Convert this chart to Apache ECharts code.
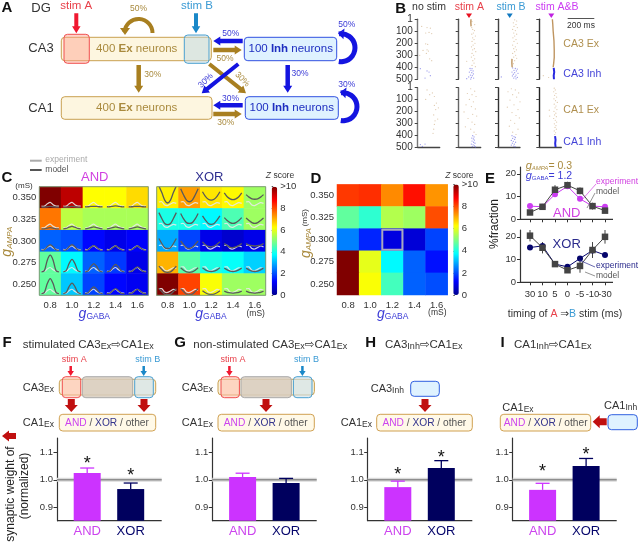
<!DOCTYPE html>
<html>
<head>
<meta charset="utf-8">
<style>
  html, body { margin: 0; padding: 0; background: #fff; }
  #chart { width: 640px; height: 543px; }
</style>
<script src="https://cdn.jsdelivr.net/npm/echarts@6/dist/echarts.min.js"></script>
</head>
<body>
<div id="chart"></div>
<script>
// heatmap tick labels
const gAmpaLabels = ['0.350', '0.325', '0.300', '0.275', '0.250'];
const gGabaLabels = ['0.8', '1.0', '1.2', '1.4', '1.6'];

// z scores, rows top to bottom
const andZ = [
  [10, 9.4, 6.25, 6.25, 6.6],
  [7.6, 5.6, 5.4, 5.4, 5.4],
  [2.2, 2.0, 1.3, 1.0, 1.2],
  [4.7, 3.7, 2.2, 1.8, 1.0],
  [4.7, 3.2, 1.9, 1.3, 1.1],
];
const xorZ = [
  [6.4, 7.2, 6.5, 6.3, 5.3],
  [4.0, 4.0, 3.7, 4.5, 5.3],
  [2.9, 1.9, 1.0, 0.7, 1.0],
  [7.0, 4.6, 4.0, 3.8, 3.3],
  [10, 8.1, 6.2, 5.3, 5.3],
];
const totalZ = [
  [8.2, 8.3, 7.4, 8.6, 7.3],
  [4.7, 4.2, 5.5, 5.3, 8.0],
  [2.5, 1.6, 0.9, 0.8, 1.9],
  [10, 6.0, 3.7, 2.2, 1.4],
  [10, 6.2, 4.4, 2.2, 2.0],
];
const selectedCell = [[2, 2]];

// timing curves
const timingLabels = ['30', '10', '5', '0', '-5', '-10', '-30'];
const andExperiment = [5.8, 5.5, 11, 14.5, 9, 5.8, 5.5];
const andModelTiming = [3, 5.5, 13, 15, 12.5, 5.8, 3.8];
const andModelErr = [0.5, 1, 2, 1.5, 1.5, 1.5, 1];
const xorExperiment = [15.3, 16, 8, 6.8, 10.5, 14, 12];
const xorModelTiming = [20.5, 15.2, 8, 5.3, 7.2, 14.2, 20];
const xorModelErr = [2.5, 2.5, 1, 1.2, 3, 3.5, 3];

// small model curves inside the cells of panel C, %fraction per timing
const andCellModel = [
  [[3, 3, 4, 5, 4, 3, 3], [3, 3, 4, 5, 4, 3, 3], [4, 4, 5, 5, 5, 4, 4], [4, 4, 5, 6, 5, 4, 4], [4, 4, 5, 5, 5, 4, 4]],
  [[3, 3, 5, 6, 5, 3, 3], [3, 4, 7, 9, 7, 4, 3], [3, 4, 6, 8, 6, 4, 3], [3, 4, 6, 8, 6, 4, 3], [3, 4, 6, 8, 6, 4, 3]],
  [[4, 5, 12, 17, 12, 5, 4], [4, 5, 12, 17, 12, 5, 4], [4, 5, 11, 15, 11, 5, 4], [4, 5, 10, 14, 10, 5, 4], [4, 5, 10, 14, 10, 5, 4]],
  [[4, 7, 32, 44, 32, 7, 4], [4, 7, 24, 34, 24, 7, 4], [4, 6, 17, 24, 17, 6, 4], [4, 6, 15, 22, 15, 6, 4], [4, 5, 11, 16, 11, 5, 4]],
  [[4, 7, 28, 40, 28, 7, 4], [4, 7, 21, 29, 21, 7, 4], [4, 6, 14, 20, 14, 6, 4], [4, 5, 11, 16, 11, 5, 4], [4, 5, 10, 14, 10, 5, 4]],
];
const xorCellModel = [
  [[54, 38, 20, 13, 20, 38, 54], [47, 32, 20, 16, 20, 32, 47], [40, 29, 22, 20, 22, 29, 40], [37, 28, 23, 21, 23, 28, 37], [33, 27, 23, 22, 23, 27, 33]],
  [[42, 28, 16, 13, 16, 28, 42], [40, 27, 18, 16, 18, 27, 40], [34, 24, 16, 14, 16, 24, 34], [30, 23, 18, 16, 18, 23, 30], [29, 23, 18, 16, 18, 23, 29]],
  [[32, 20, 10, 8, 10, 20, 32], [26, 17, 10, 8, 11, 18, 26], [24, 17, 13, 12, 14, 18, 24], [20, 15, 11, 10, 12, 15, 20], [20, 16, 15, 14, 15, 16, 20]],
  [[18, 10, 4, 3, 4, 10, 18], [14, 8, 4, 3, 4, 8, 14], [14, 9, 6, 5, 6, 9, 14], [13, 9, 6, 5, 6, 9, 13], [13, 9, 6, 5, 6, 9, 13]],
  [[16, 9, 3, 2, 3, 9, 16], [16, 9, 3, 2, 3, 9, 16], [11, 6, 3, 2, 3, 6, 11], [10, 7, 6, 5, 6, 7, 10], [10, 7, 6, 5, 6, 7, 10]],
];

// bar panels F to I: AND, XOR
const barCategories = ['AND', 'XOR'];
const weightF = [1.025, 0.966];
const weightFTop = [1.043, 0.988];
const weightG = [1.01, 0.988];
const weightGTop = [1.024, 1.005];
const weightH = [0.973, 1.043];
const weightHTop = [0.995, 1.07];
const weightI = [0.963, 1.05];
const weightITop = [0.987, 1.078];

// raster panels, [ms, neuron]
const ca3NoStimEx = [[30, 60], [70, 70], [95, 75], [60, 115], [85, 110], [105, 120], [60, 205], [75, 210], [40, 260], [70, 255], [80, 265], [65, 285], [15, 300], [90, 330], [105, 345]];
const ca3NoStimInh = [[20, 412], [70, 430], [85, 440], [95, 470], [55, 490]];
const ca3StimAVolley = [[92, 1], [91, 30], [93, 60]];
const ca3StimAEx = [[100, 20], [120, 45], [98, 70], [105, 85], [118, 95], [110, 115], [98, 125], [125, 140], [105, 155], [115, 170], [100, 185], [122, 200], [108, 215], [96, 230], [118, 245], [105, 255], [128, 270], [100, 285], [112, 300], [95, 315], [120, 330], [106, 345], [60, 350], [115, 365], [100, 385], [125, 395]];
const ca3StimAInh = [[85, 410], [100, 412], [92, 425], [108, 430], [80, 440], [98, 445], [110, 455], [88, 465], [102, 470], [75, 480], [95, 485], [112, 490], [60, 495], [90, 498]];
const ca3StimBVolley = [[105, 330], [104, 365], [106, 400]];
const ca3StimBEx = [[125, 5], [140, 15], [115, 30], [135, 45], [120, 60], [145, 70], [110, 85], [130, 95], [118, 115], [140, 125], [125, 140], [112, 155], [135, 170], [120, 185], [145, 200], [110, 215], [130, 230], [118, 245], [138, 255], [125, 270], [110, 285], [132, 300], [118, 315], [140, 325], [125, 345], [115, 370]];
const ca3StimBInh = [[110, 405], [130, 410], [145, 415], [120, 425], [138, 430], [105, 440], [125, 445], [150, 450], [115, 458], [135, 465], [108, 472], [128, 478], [145, 484], [118, 490], [135, 496], [25, 480]];
const ca3BothVolley = [[98, 1], [101, 40], [104, 100], [110, 180], [112, 260], [112, 320], [108, 365], [104, 400]];
const ca3BothEx = [[70, 485], [30, 470]];
const ca3BothInhVolley = [[108, 405], [112, 440], [108, 470], [110, 500]];
const ca1NoStimEx = [[70, 20], [110, 45], [90, 60], [125, 75], [60, 100], [140, 130], [125, 150], [155, 170], [135, 185], [120, 230], [150, 265], [130, 280], [125, 310], [120, 350], [115, 385]];
const ca1NoStimInh = [[20, 480], [55, 475], [35, 495]];
const ca1StimAEx = [[90, 10], [120, 30], [65, 50], [100, 60], [130, 75], [80, 100], [110, 120], [55, 145], [95, 160], [125, 180], [40, 205], [105, 225], [135, 240], [70, 260], [100, 290], [120, 310], [50, 330], [90, 350], [115, 375], [130, 395]];
const ca1StimAInh = [[105, 405], [115, 415], [98, 425], [110, 432], [118, 442], [100, 450], [112, 460], [122, 468], [95, 475], [108, 482], [118, 490], [102, 497], [125, 500]];
const ca1StimBEx = [[100, 10], [130, 20], [75, 35], [155, 45], [110, 60], [140, 80], [90, 105], [165, 120], [120, 145], [70, 165], [150, 185], [105, 210], [135, 235], [160, 255], [95, 275], [125, 300], [85, 325], [150, 350], [110, 375], [135, 395]];
const ca1StimBInh = [[105, 405], [120, 412], [130, 420], [110, 428], [125, 436], [100, 445], [115, 452], [132, 460], [108, 468], [122, 476], [100, 484], [118, 492], [128, 498]];
const ca1BothEx = [[112, 5], [120, 20], [108, 35], [125, 50], [115, 65], [130, 80], [110, 95], [122, 110], [135, 125], [112, 140], [125, 155], [118, 170], [132, 185], [110, 200], [124, 215], [115, 230], [128, 245], [108, 260], [120, 275], [130, 290], [113, 305], [125, 320], [118, 335], [128, 350], [112, 365], [122, 380], [116, 395], [75, 190], [78, 240]];
const ca1BothInhVolley = [[118, 408], [122, 440], [119, 470], [122, 500]];

// scale of the raster x axis and of the small curves
const rasterTicks = [1, 100, 200, 300, 400, 500];
const rasterSpan = 165;
const cellCurveRange = 52;

const FONT = '"Liberation Sans","DejaVu Sans",sans-serif';
const MAGENTA = '#cc3cf2';
const NAVY = '#05056b';
const TAN = '#a98a3e';
const BLUE = '#3a3ad6';
const EX_ARROW = '#a87f20';
const INH_ARROW = '#1414e0';
const DARK_RED = '#c01010';
const RED_TEXT = '#e8404a';
const BLUE_TEXT = '#3a9ad4';
const JET = ['#00008f', '#0000ff', '#0080ff', '#00ffff', '#80ff80', '#ffff00', '#ff8000', '#ff0000', '#800000'];

let grids = [];
let xAxes = [];
let yAxes = [];
let series = [];
let graphics = [];

function addGrid(box, xAxis, yAxis) {
  grids.push({ left: box[0], top: box[1], width: box[2], height: box[3], containLabel: false });
  let gridIndex = grids.length - 1;
  xAxes.push(Object.assign({ gridIndex, splitLine: { show: false } }, xAxis));
  yAxes.push(Object.assign({ gridIndex, splitLine: { show: false } }, yAxis));
  return gridIndex;
}

function addSeries(gridIndex, s) {
  series.push(Object.assign({ xAxisIndex: gridIndex, yAxisIndex: gridIndex, silent: true, animation: false }, s));
  return series.length - 1;
}

// ---------- drawing helpers for the schematics ----------
function txt(x, y, text, size, color, opts) {
  opts = opts || {};
  graphics.push({
    type: 'text',
    x,
    y,
    rotation: opts.rotation || 0,
    z: 50,
    silent: true,
    style: {
      text,
      fill: color || '#333',
      font: (opts.weight || 'normal') + ' ' + size + 'px ' + FONT,
      align: opts.align || 'left',
      verticalAlign: 'middle',
      rich: opts.rich,
    },
  });
}

function rich(size, color, subSize) {
  return {
    m: { fontSize: size, fontFamily: FONT, fill: color },
    s: { fontSize: subSize, fontFamily: FONT, fill: color, verticalAlign: 'bottom', lineHeight: size + 1 },
  };
}

function box(x1, y1, x2, y2, fill, stroke, z, r) {
  graphics.push({
    type: 'rect',
    z: z || 10,
    silent: true,
    shape: { x: x1, y: y1, width: x2 - x1, height: y2 - y1, r: r === undefined ? 3.5 : r },
    style: { fill, stroke, lineWidth: 1 },
  });
}

function segment(x1, y1, x2, y2, color, width) {
  graphics.push({
    type: 'line',
    z: 40,
    silent: true,
    shape: { x1, y1, x2, y2 },
    style: { stroke: color, lineWidth: width },
  });
}

function arrow(x1, y1, x2, y2, width, headWidth, headLength, color) {
  let len = Math.hypot(x2 - x1, y2 - y1);
  let ux = (x2 - x1) / len;
  let uy = (y2 - y1) / len;
  let nx = -uy;
  let ny = ux;
  let bx = x2 - ux * headLength;
  let by = y2 - uy * headLength;
  graphics.push({
    type: 'polygon',
    z: 30,
    silent: true,
    shape: {
      points: [
        [x1 + (nx * width) / 2, y1 + (ny * width) / 2],
        [bx + (nx * width) / 2, by + (ny * width) / 2],
        [bx + (nx * headWidth) / 2, by + (ny * headWidth) / 2],
        [x2, y2],
        [bx - (nx * headWidth) / 2, by - (ny * headWidth) / 2],
        [bx - (nx * width) / 2, by - (ny * width) / 2],
        [x1 - (nx * width) / 2, y1 - (ny * width) / 2],
      ],
    },
    style: { fill: color },
  });
}

function arcLine(cx, cy, r, start, end, width, color) {
  graphics.push({
    type: 'arc',
    z: 30,
    silent: true,
    shape: { cx, cy, r, startAngle: start, endAngle: end, clockwise: true },
    style: { stroke: color, lineWidth: width, fill: null },
  });
}

function triangle(x, y1, y2, half, color) {
  graphics.push({
    type: 'polygon',
    z: 30,
    silent: true,
    shape: { points: [[x - half, y1], [x + half, y1], [x, y2]] },
    style: { fill: color },
  });
}

function panelLetter(letter, x, y) {
  txt(x, y, letter, 15, '#111', { weight: 'bold', align: 'center' });
}

// ---------- panel A ----------
function drawPanelA() {
  panelLetter('A', 7, 8);
  txt(41, 8.5, 'DG', 13, '#333', { align: 'center' });
  txt(41, 48.5, 'CA3', 13, '#333', { align: 'center' });
  txt(41, 108, 'CA1', 13, '#333', { align: 'center' });
  txt(76.3, 6, 'stim A', 11.5, RED_TEXT, { align: 'center' });
  txt(197, 6, 'stim B', 11.5, BLUE_TEXT, { align: 'center' });
  arrow(76.3, 13.3, 76.3, 33.3, 4, 8.5, 7, '#f01830');
  arrow(196, 13.3, 196, 33.3, 4, 8.5, 7, '#1a88c8');

  box(61.3, 37.3, 211.3, 60.7, '#fdf6e0', '#c9a050');
  box(64, 34.3, 89.3, 63.3, 'rgba(255,160,140,0.45)', '#f05050', 11);
  box(184.3, 35, 209, 63.3, 'rgba(190,215,225,0.5)', '#4aa0d0', 11);
  box(244.3, 37.3, 336.7, 60.7, '#dff2ff', '#3050e0');
  box(61.3, 96.7, 212, 119.3, '#fdf6e0', '#c9a050');
  box(245.3, 96.7, 338.3, 119.3, '#dff2ff', '#3050e0');

  let exRich = { m: { fontSize: 11.5, fontFamily: FONT, fill: TAN }, b: { fontSize: 11.5, fontFamily: FONT, fontWeight: 'bold', fill: TAN } };
  let inhRich = { m: { fontSize: 11.5, fontFamily: FONT, fill: '#1e2ec0' }, b: { fontSize: 11.5, fontFamily: FONT, fontWeight: 'bold', fill: '#1e2ec0' } };
  txt(136.7, 49, '{m|400 }{b|Ex}{m| neurons}', 11.5, TAN, { align: 'center', rich: exRich });
  txt(136.7, 108, '{m|400 }{b|Ex}{m| neurons}', 11.5, TAN, { align: 'center', rich: exRich });
  txt(290.7, 49, '{m|100 }{b|Inh}{m| neurons}', 11.5, '#1e2ec0', { align: 'center', rich: inhRich });
  txt(291.7, 108, '{m|100 }{b|Inh}{m| neurons}', 11.5, '#1e2ec0', { align: 'center', rich: inhRich });

  // recurrent arrows
  arcLine(138.5, 33, 14, Math.PI * 1.02, Math.PI * 2, 4, EX_ARROW);
  triangle(125, 28, 35, 5, EX_ARROW);
  arcLine(341, 47.7, 14, -Math.PI * 0.55, Math.PI * 0.55, 5, INH_ARROW);
  arrow(342, 33.7, 338, 33.3, 4, 11, 6, INH_ARROW);
  arcLine(343, 106.7, 14, -Math.PI * 0.55, Math.PI * 0.55, 5, INH_ARROW);
  arrow(344, 92.7, 340, 92.3, 4, 11, 6, INH_ARROW);

  // connections
  arrow(213.3, 50, 241.7, 50, 4.5, 9, 7, EX_ARROW);
  arrow(242.7, 41, 213.3, 41, 4.5, 9, 7, INH_ARROW);
  arrow(138.7, 65, 138.7, 92.7, 4.5, 9, 7, EX_ARROW);
  arrow(209.3, 64, 246, 93.3, 4, 9, 7, EX_ARROW);
  arrow(238.3, 64, 201.7, 93.3, 4, 9, 7, INH_ARROW);
  arrow(287.7, 65, 287.7, 92.7, 4.5, 9, 7, INH_ARROW);
  arrow(242.7, 105.3, 213.3, 105.3, 4.5, 9, 7, INH_ARROW);
  arrow(213.3, 114, 241.7, 114, 4.5, 9, 7, EX_ARROW);

  let pct = 8.5;
  txt(138.5, 8.5, '50%', pct, TAN, { align: 'center' });
  txt(230.7, 34, '50%', pct, BLUE, { align: 'center' });
  txt(225, 58.5, '50%', pct, TAN, { align: 'center' });
  txt(152.7, 75, '30%', pct, TAN, { align: 'center' });
  txt(205.7, 80.7, '30%', pct, BLUE, { align: 'center', rotation: Math.PI / 4 });
  txt(242.3, 79.3, '30%', pct, TAN, { align: 'center', rotation: -Math.PI / 4 });
  txt(300, 74, '30%', pct, BLUE, { align: 'center' });
  txt(230.5, 98.3, '30%', pct, BLUE, { align: 'center' });
  txt(225.7, 122.3, '30%', pct, TAN, { align: 'center' });
  txt(346.7, 25, '50%', pct, BLUE, { align: 'center' });
  txt(346.7, 85, '30%', pct, BLUE, { align: 'center' });
}

// ---------- panel B ----------
function addRaster(left, top, width, height, showLabels, showBase, axisColor, data) {
  let g = addGrid(
    [left, top, width, height],
    {
      type: 'value',
      min: 0,
      max: rasterSpan,
      axisLine: { show: showBase, onZero: false, lineStyle: { color: '#444', width: 1.3 } },
      axisTick: { show: false },
      axisLabel: { show: false },
    },
    {
      type: 'value',
      inverse: true,
      min: 1,
      max: 500,
      axisLine: { show: true, onZero: false, lineStyle: { color: axisColor, width: 1.4 } },
      axisTick: { show: true, length: 3, customValues: rasterTicks, lineStyle: { color: '#444', width: 1 } },
      axisLabel: {
        show: showLabels,
        customValues: rasterTicks,
        fontSize: 10,
        fontFamily: FONT,
        color: '#333',
        margin: 5,
      },
    }
  );
  if (data.ex) {
    addSeries(g, { type: 'scatter', data: data.ex, symbolSize: 1.2, clip: false, itemStyle: { color: '#cfae84', opacity: 0.7 } });
  }
  if (data.inh) {
    addSeries(g, { type: 'scatter', data: data.inh, symbolSize: 1.3, clip: false, itemStyle: { color: '#6464e4', opacity: 0.65 } });
  }
  if (data.volley) {
    addSeries(g, { type: 'line', data: data.volley, showSymbol: false, clip: false, lineStyle: { color: '#bf9560', width: 1.4 } });
  }
  if (data.inhVolley) {
    addSeries(g, { type: 'line', data: data.inhVolley, showSymbol: false, clip: false, lineStyle: { color: '#2a2ae0', width: 2 } });
  }
}

function drawPanelB() {
  panelLetter('B', 400.7, 8.5);
  txt(429, 7, 'no stim', 10.5, '#333', { align: 'center' });
  txt(469.3, 7, 'stim A', 10.5, RED_TEXT, { align: 'center' });
  txt(511, 7, 'stim B', 10.5, BLUE_TEXT, { align: 'center' });
  txt(557, 7, 'stim A&B', 10.5, MAGENTA, { align: 'center' });
  triangle(469, 13.5, 18, 3, '#e81020');
  triangle(509.7, 13.5, 18, 3, '#1078c0');
  triangle(551.3, 13.5, 18, 3, '#c020e0');
  segment(567.7, 18.5, 594.3, 18.5, '#555', 1);
  txt(581, 25.5, '200 ms', 8.5, '#333', { align: 'center' });
  txt(563.3, 44, 'CA3 Ex', 10.5, '#b09050');
  txt(563.3, 74, 'CA3 Inh', 10.5, '#4444d8');
  txt(563.3, 110, 'CA1 Ex', 10.5, '#b09050');
  txt(563.3, 141.7, 'CA1 Inh', 10.5, '#4444d8');

  addRaster(417.7, 19.3, 22, 60, true, false, '#777', { ex: ca3NoStimEx, inh: ca3NoStimInh });
  addRaster(458.7, 19.3, 22, 60, false, false, '#555', { ex: ca3StimAEx, inh: ca3StimAInh, volley: ca3StimAVolley });
  addRaster(498, 19.3, 22, 60, false, false, '#444', { ex: ca3StimBEx, inh: ca3StimBInh, volley: ca3StimBVolley });
  addRaster(539.3, 19.3, 22, 60, false, false, '#333', { ex: ca3BothEx, volley: ca3BothVolley, inhVolley: ca3BothInhVolley });
  addRaster(417.7, 87.7, 22, 59.3, true, true, '#777', { ex: ca1NoStimEx, inh: ca1NoStimInh });
  addRaster(458.7, 87.7, 22, 59.3, false, true, '#666', { ex: ca1StimAEx, inh: ca1StimAInh });
  addRaster(498, 87.7, 22, 59.3, false, true, '#333', { ex: ca1StimBEx, inh: ca1StimBInh });
  addRaster(539.3, 87.7, 22, 59.3, false, true, '#222', { ex: ca1BothEx, inhVolley: ca1BothInhVolley });
}

// ---------- panels C and D ----------
function cellsOf(matrix) {
  let cells = [];
  matrix.forEach((row, r) => row.forEach((v, c) => cells.push([c, r, v])));
  return cells;
}

function addHeatmap(box_, matrix, showY) {
  let labelStyle = { fontSize: 9.5, fontFamily: FONT, color: '#333' };
  let g = addGrid(
    box_,
    {
      type: 'category',
      data: gGabaLabels,
      axisLine: { show: false },
      axisTick: { show: false },
      axisLabel: Object.assign({ margin: 5 }, labelStyle),
    },
    {
      type: 'category',
      inverse: true,
      data: gAmpaLabels,
      axisLine: { show: false },
      axisTick: { show: false },
      axisLabel: Object.assign({ show: showY, margin: 3 }, labelStyle),
    }
  );
  let index = addSeries(g, { type: 'heatmap', data: cellsOf(matrix), progressive: 0 });
  return { g, index };
}

function addCurves(g, matrix, experiment, model) {
  addSeries(g, {
    type: 'custom',
    data: cellsOf(matrix),
    clip: true,
    z: 5,
    renderItem(params, api) {
      let c = api.value(0);
      let r = api.value(1);
      let center = api.coord([c, r]);
      let size = api.size([1, 1]);
      let x0 = center[0] - size[0] / 2;
      let bottom = center[1] + size[1] / 2;
      let path = values =>
        values.map((v, i) => [x0 + size[0] * (0.1 + (0.8 * i) / 6), bottom - (v / cellCurveRange) * size[1]]);
      return {
        type: 'group',
        children: [
          {
            type: 'polyline',
            shape: { points: path(experiment), smooth: 0.3 },
            style: { fill: null, stroke: 'rgba(232,232,232,0.9)', lineWidth: 1.2 },
          },
          {
            type: 'polyline',
            shape: { points: path(model[r][c]), smooth: 0.3 },
            style: { fill: null, stroke: '#5a5a5a', lineWidth: 1.3 },
          },
        ],
      };
    },
  });
}

function addColorbarAxis(left, top, width, height) {
  addGrid(
    [left, top, width, height],
    { type: 'value', show: false, min: 0, max: 1 },
    {
      type: 'value',
      position: 'right',
      min: 0,
      max: 10,
      interval: 2,
      axisLine: { show: false },
      axisTick: { show: true, length: 1.5, lineStyle: { color: '#555' } },
      axisLabel: {
        fontSize: 9.5,
        fontFamily: FONT,
        color: '#333',
        margin: 3,
        formatter: v => (v === 10 ? '>10' : v),
      },
    }
  );
}

function gLabelRich(color) {
  return {
    g: { fontSize: 14, fontFamily: FONT, fontStyle: 'italic', fill: color },
    s: { fontSize: 8.5, fontFamily: FONT, fill: color, verticalAlign: 'bottom', lineHeight: 12 },
    i: { fontSize: 8, fontFamily: FONT, fontStyle: 'italic', fill: color, verticalAlign: 'bottom', lineHeight: 12 },
  };
}

function drawPanelsCD() {
  panelLetter('C', 7, 178);
  segment(30, 160.7, 41.7, 160.7, '#aaa', 2);
  segment(30, 170, 41.7, 170, '#555', 2);
  txt(45.3, 160, 'experiment', 8.5, '#aaa');
  txt(45.3, 170, 'model', 8.5, '#555');
  txt(94.7, 177.7, 'AND', 13, '#d040e0', { align: 'center' });
  txt(209.3, 177.7, 'XOR', 13, '#303090', { align: 'center' });
  txt(24, 186, '(mS)', 8, '#333', { align: 'center' });
  txt(94.3, 314, '{g|g}{s|GABA}', 14, BLUE, { align: 'center', rich: gLabelRich(BLUE) });
  txt(211, 314, '{g|g}{s|GABA}', 14, BLUE, { align: 'center', rich: gLabelRich(BLUE) });
  txt(255.7, 313.3, '(mS)', 8.5, '#333', { align: 'center' });
  txt(7, 241.7, '{g|g}{i|AMPA}', 14, TAN, { align: 'center', rotation: Math.PI / 2, rich: gLabelRich(TAN) });

  let zRich = {
    z: { fontSize: 8.5, fontFamily: FONT, fontStyle: 'italic', fill: '#333' },
    t: { fontSize: 8.5, fontFamily: FONT, fill: '#333' },
  };
  txt(280, 175.3, '{z|Z}{t| score}', 8.5, '#333', { align: 'center', rich: zRich });
  txt(459.3, 175.3, '{z|Z}{t| score}', 8.5, '#333', { align: 'center', rich: zRich });

  panelLetter('D', 316, 179.3);
  txt(392.7, 314, '{g|g}{s|GABA}', 14, BLUE, { align: 'center', rich: gLabelRich(BLUE) });
  txt(437.3, 312.7, '(mS)', 8.5, '#333', { align: 'center' });
  txt(306, 243, '{g|g}{i|AMPA}', 14, TAN, { align: 'center', rotation: Math.PI / 2, rich: gLabelRich(TAN) });
  txt(305, 217.7, '(mS)', 8, '#333', { align: 'center', rotation: Math.PI / 2 });

  let andMap = addHeatmap([39.3, 186.7, 109, 108.6], andZ, true);
  let xorMap = addHeatmap([156.7, 186.7, 109, 108.6], xorZ, false);
  let totalMap = addHeatmap([337, 184.4, 110.7, 110.6], totalZ, true);
  addCurves(andMap.g, andZ, andExperiment, andCellModel);
  addCurves(xorMap.g, xorZ, xorExperiment, xorCellModel);

  addSeries(totalMap.g, {
    type: 'custom',
    data: selectedCell,
    z: 6,
    renderItem(params, api) {
      let center = api.coord([api.value(0), api.value(1)]);
      let size = api.size([1, 1]);
      return {
        type: 'rect',
        shape: { x: center[0] - size[0] / 2 + 1, y: center[1] - size[1] / 2 + 1, width: size[0] - 2, height: size[1] - 2 },
        style: { fill: null, stroke: '#a8a8c0', lineWidth: 2 },
      };
    },
  });

  box(39.3, 186.7, 148.3, 295.3, null, '#7f9a78', 20, 0);
  box(156.7, 186.7, 265.7, 295.3, null, '#7f9a78', 20, 0);

  addColorbarAxis(271.7, 186.7, 5.5, 108.6);
  addColorbarAxis(453.3, 184.4, 5.5, 110.6);

  return [
    { seriesIndex: [andMap.index, xorMap.index], left: 271.7, top: 186.7, itemHeight: 108.6 },
    { seriesIndex: [totalMap.index], left: 453.3, top: 184.4, itemHeight: 110.6 },
  ].map(m =>
    Object.assign(m, {
      type: 'continuous',
      min: 0,
      max: 10,
      itemWidth: 5.5,
      padding: 0,
      calculable: false,
      hoverLink: false,
      text: null,
      inRange: { color: JET },
    })
  );
}

// ---------- panel E ----------
function addTimingPanel(top, experiment, experimentColor, model, err, showLabels) {
  let g = addGrid(
    [523.75, top, 87.5, 52.3],
    {
      type: 'category',
      data: timingLabels,
      axisLine: { show: false },
      axisTick: { show: true, alignWithLabel: true, length: 3, lineStyle: { color: '#333' } },
      axisLabel: { show: showLabels, fontSize: 9.5, fontFamily: FONT, color: '#333', margin: 7, interval: 0 },
    },
    {
      type: 'value',
      min: 0,
      max: 23,
      offset: 3.75,
      axisLine: { show: true, onZero: false, lineStyle: { color: '#333', width: 1.2 } },
      axisTick: { show: true, length: 3, customValues: [0, 10, 20], lineStyle: { color: '#333' } },
      axisLabel: { fontSize: 9.5, fontFamily: FONT, color: '#333', margin: 4, customValues: [0, 10, 20] },
    }
  );
  segment(520, top + 52.3, 613, top + 52.3, '#333', 1.2);
  addSeries(g, {
    type: 'custom',
    data: model.map((v, i) => [i, v - err[i], v + err[i]]),
    z: 3,
    clip: false,
    renderItem(params, api) {
      let low = api.coord([api.value(0), api.value(1)]);
      let high = api.coord([api.value(0), api.value(2)]);
      return {
        type: 'line',
        shape: { x1: low[0], y1: low[1], x2: high[0], y2: high[1] },
        style: { stroke: '#444', lineWidth: 1 },
      };
    },
  });
  addSeries(g, {
    type: 'line',
    data: experiment,
    z: 4,
    symbol: 'circle',
    symbolSize: 6,
    clip: false,
    lineStyle: { color: experimentColor, width: 1 },
    itemStyle: { color: experimentColor },
  });
  addSeries(g, {
    type: 'line',
    data: model,
    z: 5,
    symbol: 'rect',
    symbolSize: 6.5,
    clip: false,
    lineStyle: { color: '#444', width: 1 },
    itemStyle: { color: '#444' },
  });
}

function drawPanelE() {
  panelLetter('E', 490, 179.3);
  txt(494.3, 224, '%fraction', 12, '#222', { align: 'center', rotation: Math.PI / 2 });
  let tanRich = gLabelRich(TAN);
  tanRich.n = { fontSize: 10.5, fontFamily: FONT, fill: TAN };
  tanRich.g.fontSize = 11;
  tanRich.i.fontSize = 6;
  tanRich.i.lineHeight = 9;
  let blueRich = gLabelRich(BLUE);
  blueRich.n = { fontSize: 10.5, fontFamily: FONT, fill: BLUE };
  blueRich.g.fontSize = 11;
  blueRich.s.fontSize = 6;
  blueRich.s.lineHeight = 9;
  txt(525.7, 166, '{g|g}{i|AMPA}{n|= 0.3}', 11, TAN, { rich: tanRich });
  txt(525.7, 176, '{g|g}{s|GABA}{n|= 1.2}', 11, BLUE, { rich: blueRich });
  txt(566.7, 213, 'AND', 13, '#d040e0', { align: 'center' });
  txt(566.7, 244, 'XOR', 13, '#2a2a8c', { align: 'center' });
  txt(596, 182, 'experiment', 8.5, '#d040e0');
  txt(596, 191.7, 'model', 8.5, '#555');
  txt(596, 266, 'experiment', 8.5, '#2a2a8c');
  txt(596, 275.7, 'model', 8.5, '#555');
  segment(596, 184, 581, 201, '#d040e0', 0.7);
  segment(595, 193, 587, 208, '#666', 0.7);
  segment(595, 267, 579, 260, '#2a2a8c', 0.7);
  segment(595, 276, 585, 272, '#666', 0.7);
  let axisRich = {
    t: { fontSize: 10.5, fontFamily: FONT, fill: '#333' },
    a: { fontSize: 10.5, fontFamily: FONT, fill: RED_TEXT },
    b: { fontSize: 10.5, fontFamily: FONT, fill: BLUE_TEXT },
  };
  txt(565, 313.7, '{t|timing of }{a|A}{t| \u21d2}{b|B}{t| stim (ms)}', 10.5, '#333', { align: 'center', rich: axisRich });

  addTimingPanel(167, andExperiment, MAGENTA, andModelTiming, andModelErr, false);
  addTimingPanel(230, xorExperiment, NAVY, xorModelTiming, xorModelErr, true);
}

// ---------- panels F to I ----------
function addBarPanel(axisX, rightX, firstCenter, values, tops) {
  let band = 43.5;
  let left = firstCenter - band / 2;
  let g = addGrid(
    [left, 438, band * 2, 82.7],
    {
      type: 'category',
      data: barCategories.map((name, i) => ({
        value: name,
        textStyle: { color: i === 0 ? '#cc44ee' : NAVY },
      })),
      axisLine: { show: false },
      axisTick: { show: false },
      axisLabel: { fontSize: 13, fontFamily: FONT, margin: 4, interval: 0 },
    },
    {
      type: 'value',
      min: 0.85,
      max: 1.153,
      offset: left - axisX,
      axisLine: { show: true, onZero: false, lineStyle: { color: '#333', width: 1.2 } },
      axisTick: { show: true, length: 3.5, customValues: [0.9, 1.0, 1.1], lineStyle: { color: '#333' } },
      axisLabel: {
        fontSize: 9.5,
        fontFamily: FONT,
        color: '#333',
        margin: 4,
        customValues: [0.9, 1.0, 1.1],
        formatter: v => v.toFixed(1),
      },
    }
  );
  // reference band at 1.0 and the base line run the whole width of the panel
  addSeries(g, {
    type: 'custom',
    data: [[0, 1.0, 0.85]],
    z: 1,
    clip: false,
    renderItem(params, api) {
      let y = api.coord([0, api.value(1)])[1];
      let up = api.coord([0, 1.007])[1];
      let down = api.coord([0, 0.993])[1];
      let base = api.coord([0, api.value(2)])[1];
      return {
        type: 'group',
        children: [
          { type: 'rect', shape: { x: axisX, y: up, width: rightX - axisX, height: down - up }, style: { fill: '#dadada' } },
          { type: 'line', shape: { x1: axisX, y1: y, x2: rightX, y2: y }, style: { stroke: '#8e8e8e', lineWidth: 1.5 } },
          { type: 'line', shape: { x1: axisX, y1: base, x2: rightX, y2: base }, style: { stroke: '#333', lineWidth: 1.2 } },
        ],
      };
    },
  });
  addSeries(g, {
    type: 'bar',
    z: 3,
    barWidth: 27,
    data: values.map((v, i) => ({ value: v, itemStyle: { color: i === 0 ? '#cc33ff' : '#00005e' } })),
  });
  addSeries(g, {
    type: 'custom',
    z: 4,
    clip: false,
    data: values.map((v, i) => [i, v, tops[i]]),
    renderItem(params, api) {
      let low = api.coord([api.value(0), api.value(1)]);
      let high = api.coord([api.value(0), api.value(2)]);
      let color = api.value(0) === 0 ? '#cc33ff' : '#00005e';
      return {
        type: 'group',
        children: [
          { type: 'line', shape: { x1: low[0], y1: low[1], x2: high[0], y2: high[1] }, style: { stroke: color, lineWidth: 1.3 } },
          { type: 'line', shape: { x1: high[0] - 7, y1: high[1], x2: high[0] + 7, y2: high[1] }, style: { stroke: color, lineWidth: 1.3 } },
        ],
      };
    },
  });
}

function addStars(values, center) {
  values.forEach((top, i) => {
    txt(center + i * 43.5, top, '*', 18, '#111', { align: 'center' });
  });
}

function subText(x, y, main, sub, color, align) {
  txt(x, y, `{m|${main}}{s|${sub}}`, 11, color || '#333', { align: align || 'left', rich: rich(11, color || '#333', 8.5) });
}

function titleText(x, y, from, fromSub, to, toSub) {
  let r = rich(11.5, '#333', 9);
  txt(x, y, `{m|${from}}{s|${fromSub}}{m|\u21e8${to}}{s|${toSub}}`, 11.5, '#333', { rich: r });
}

function outcomeBox(x1, x2, y1, y2, cx, cy) {
  box(x1, y1, x2, y2, '#fff9e8', '#d0a050');
  let r = {
    a: { fontSize: 10.2, fontFamily: FONT, fill: '#cc44ee' },
    o: { fontSize: 10.2, fontFamily: FONT, fill: '#555' },
    x: { fontSize: 10.2, fontFamily: FONT, fill: '#34348c' },
  };
  txt(cx, cy, '{a|AND}{o| / }{x|XOR}{o| / other}', 10.2, '#555', { align: 'center', rich: r });
}

function ca3Strip(dx) {
  txt(74.3 + dx, 360, 'stim A', 9, RED_TEXT, { align: 'center' });
  txt(147.7 + dx, 360, 'stim B', 9, BLUE_TEXT, { align: 'center' });
  arrow(70.7 + dx, 366, 70.7 + dx, 376, 2.5, 6.5, 5, '#f01830');
  arrow(143.7 + dx, 366, 143.7 + dx, 376, 2.5, 6.5, 5, '#1a88c8');
  box(59.3 + dx, 379.3, 155.7 + dx, 395, '#faf2dd', '#c9a050');
  box(62.3 + dx, 376.7, 80.7 + dx, 397.7, 'rgba(255,190,170,0.55)', '#f05050', 11);
  box(82.3 + dx, 376.7, 132.7 + dx, 397.7, 'rgba(215,205,190,0.85)', '#aaa', 11);
  box(134.7 + dx, 376.7, 153.3 + dx, 397.7, 'rgba(205,225,235,0.6)', '#4aa0d0', 11);
}

function drawPanelsFI() {
  panelLetter('F', 7, 342.7);
  titleText(22.7, 344.7, 'stimulated CA3', 'Ex', 'CA1', 'Ex');
  ca3Strip(0);
  subText(22.7, 388, 'CA3', 'Ex');
  subText(22.7, 423.3, 'CA1', 'Ex');
  arrow(71.3, 399, 71.3, 412, 7, 13, 7, DARK_RED);
  arrow(144, 399, 144, 412, 7, 13, 7, DARK_RED);
  outcomeBox(59.3, 155.7, 414.3, 431, 107, 423.3);

  panelLetter('G', 180, 343);
  titleText(193.3, 344.7, 'non-stimulated CA3', 'Ex', 'CA1', 'Ex');
  ca3Strip(158.7);
  subText(181.7, 388, 'CA3', 'Ex');
  subText(181.7, 423.3, 'CA1', 'Ex');
  arrow(266, 399, 266, 412, 7, 13, 7, DARK_RED);
  outcomeBox(218, 314.3, 414.3, 431, 265.7, 423.3);

  panelLetter('H', 370.7, 343);
  titleText(385, 344.7, 'CA3', 'Inh', 'CA1', 'Ex');
  subText(370.7, 389, 'CA3', 'Inh');
  box(410.7, 381.3, 439.3, 396.3, '#dff2ff', '#3060e0');
  subText(340.7, 423.3, 'CA1', 'Ex');
  arrow(425, 399, 425, 412, 7, 13, 7, DARK_RED);
  outcomeBox(376.7, 472.3, 414.3, 431, 424.3, 423.3);

  panelLetter('I', 502.7, 343);
  titleText(514, 344.7, 'CA1', 'Inh', 'CA1', 'Ex');
  subText(502.3, 407.7, 'CA1', 'Ex');
  subText(604, 406, 'CA1', 'Inh');
  outcomeBox(500.3, 590.7, 414.3, 431, 545.7, 423.3);
  box(608, 414.7, 637.3, 429.7, '#dff2ff', '#3060e0');
  arrow(606.7, 421.7, 592.7, 421.7, 7, 13, 7, DARK_RED);

  arrow(16, 436, 2, 436, 6, 11, 7, DARK_RED);
  txt(11, 494, 'synaptic weight of', 12, '#222', { align: 'center', rotation: Math.PI / 2 });
  txt(25, 486, '(normalized)', 12, '#222', { align: 'center', rotation: Math.PI / 2 });

  addBarPanel(57, 161.7, 87.2, weightF, weightFTop);
  addBarPanel(212.3, 316.7, 242.6, weightG, weightGTop);
  addBarPanel(367.7, 472.3, 397.8, weightH, weightHTop);
  addBarPanel(512.7, 616.7, 542.6, weightI, weightITop);
  addStars([464.2, 476.2], 87.2);
  addStars([475.2, 458.5], 397.8);
  addStars([472.5, 455.2], 542.6);
}

drawPanelA();
drawPanelB();
let visualMaps = drawPanelsCD();
drawPanelE();
drawPanelsFI();

let option = {
  backgroundColor: '#fff',
  animation: false,
  textStyle: { fontFamily: FONT },
  grid: grids,
  xAxis: xAxes,
  yAxis: yAxes,
  visualMap: visualMaps,
  series,
  graphic: { elements: graphics },
};

let chart = echarts.init(document.getElementById('chart'));
chart.setOption(option);
</script>
</body>
</html>
